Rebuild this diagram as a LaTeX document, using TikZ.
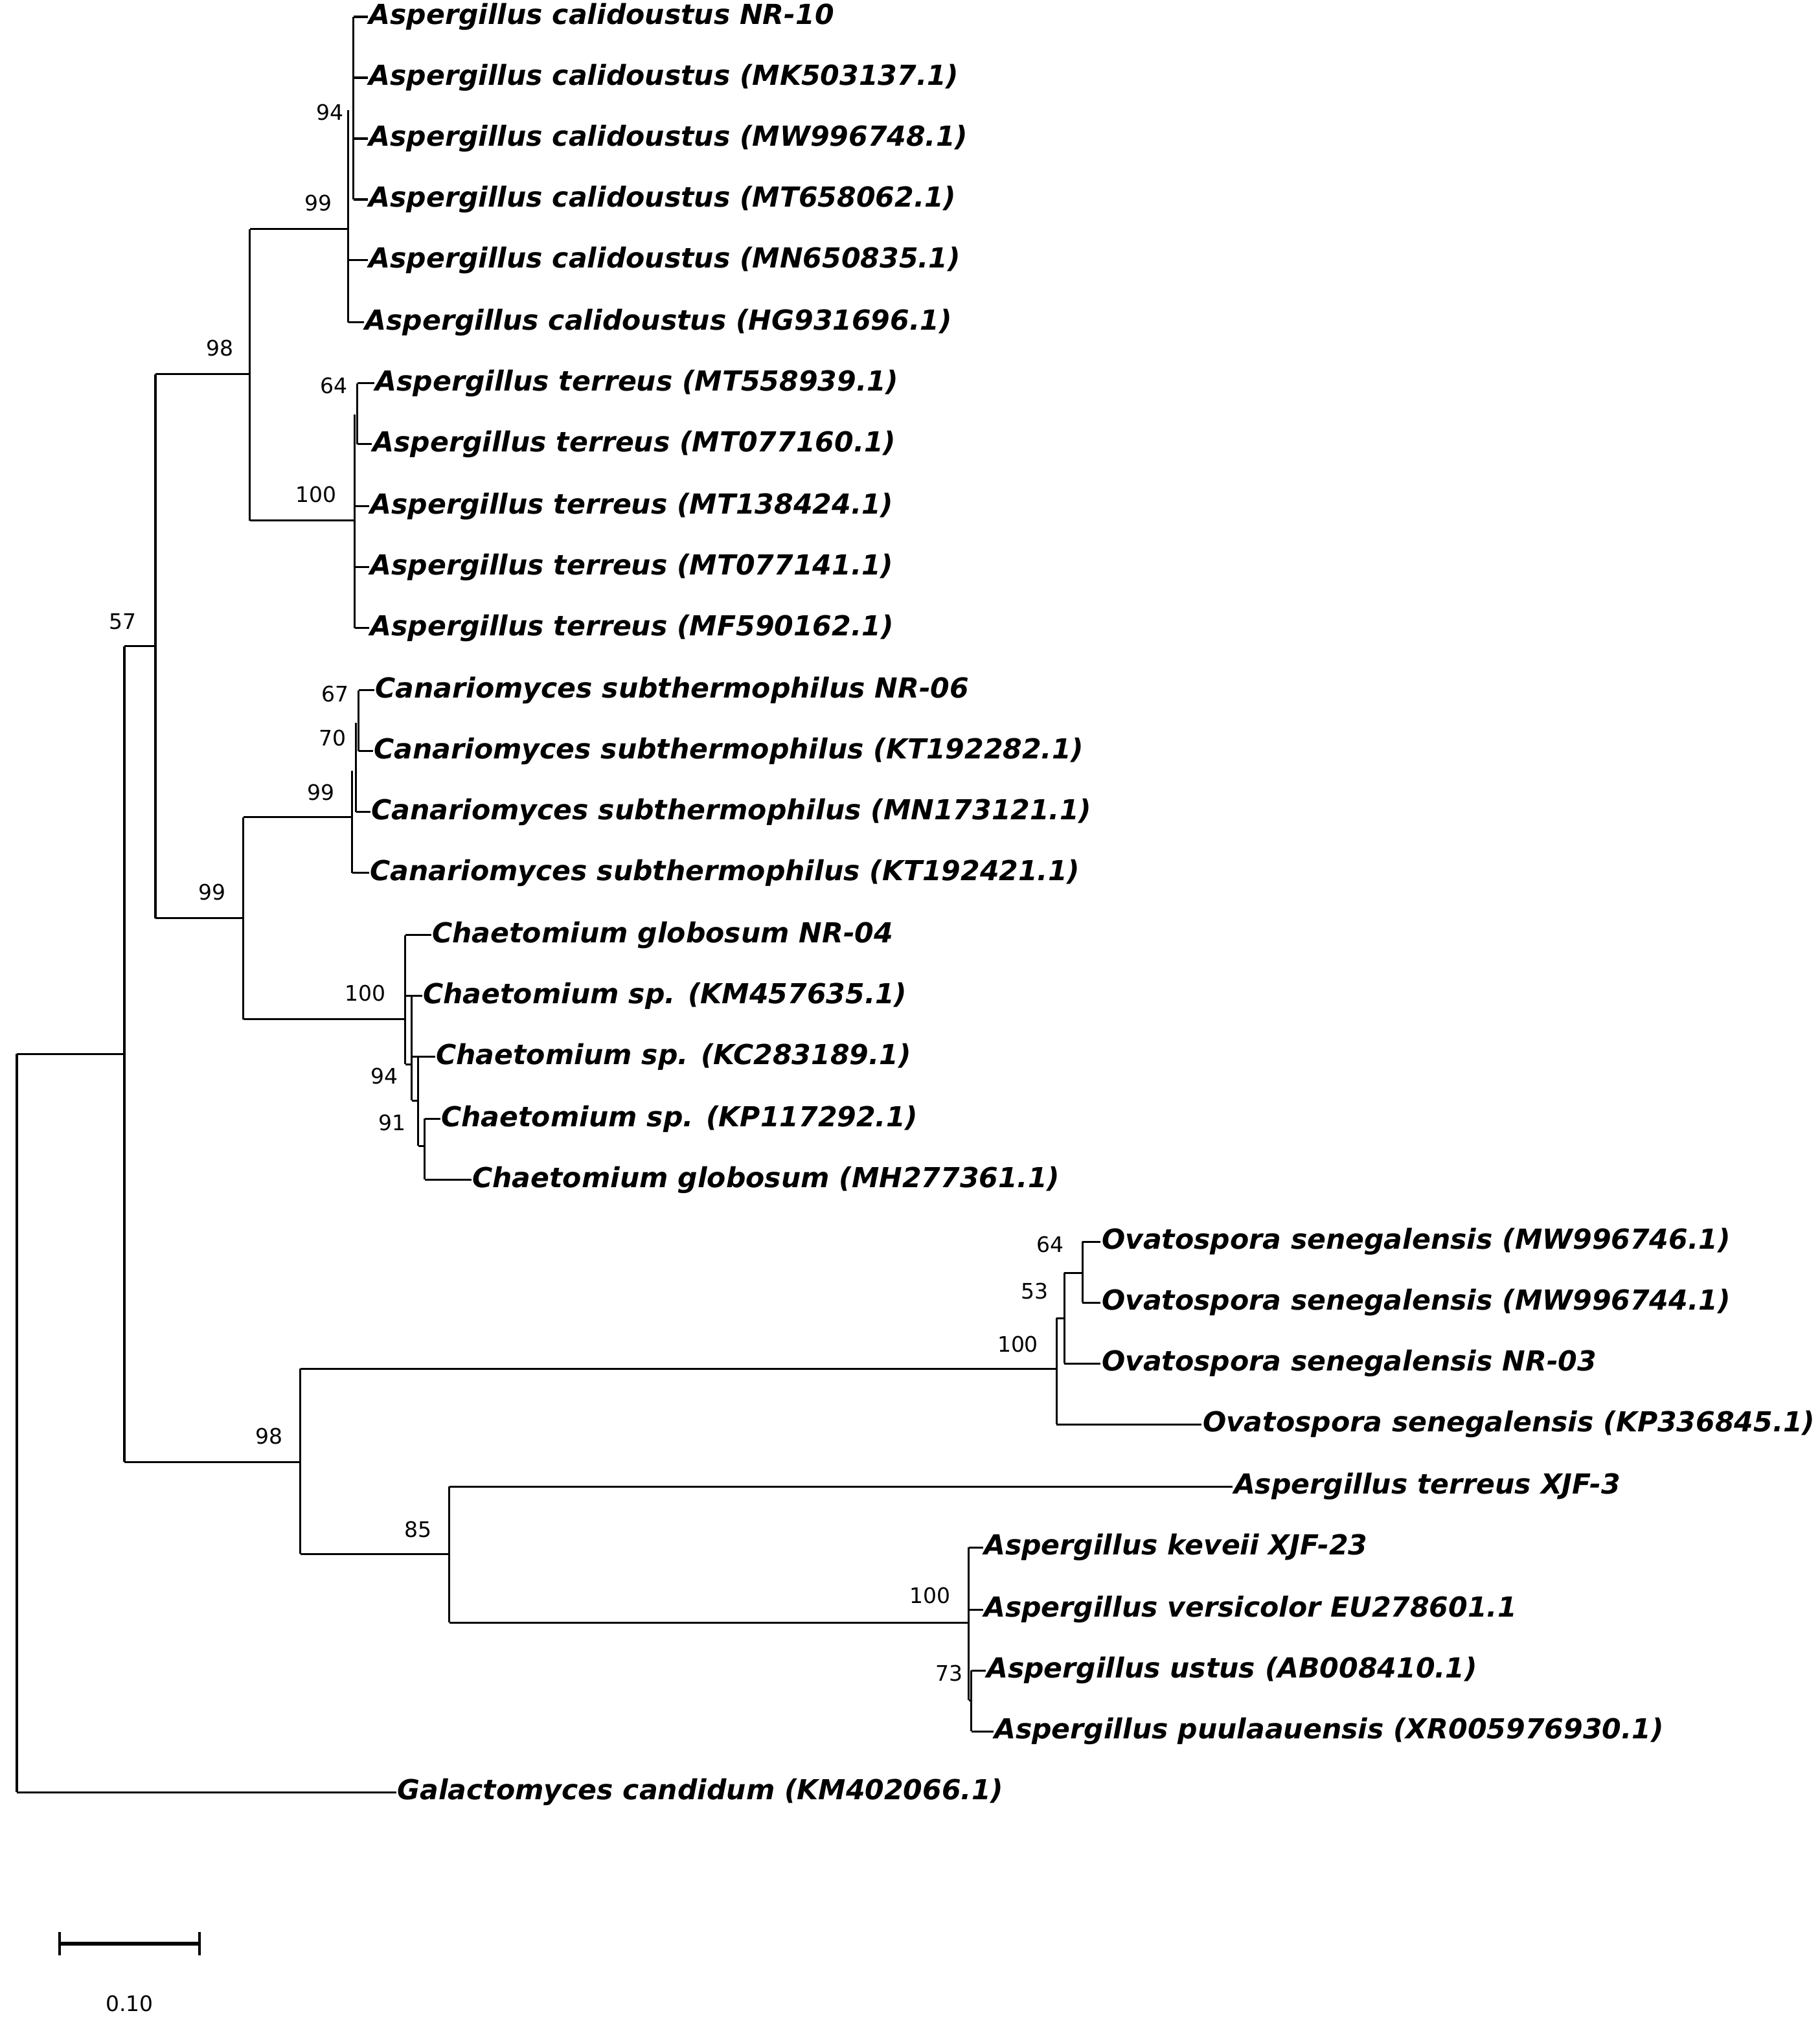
\documentclass[tikz,border=0pt]{standalone}
\usepackage{fontspec}
\setmainfont{DejaVu Sans}
\begin{document}
\begin{tikzpicture}[x=1pt,y=-1pt,line width=1.6pt,
 lf/.style={anchor=west,inner sep=0pt,font=\fontsize{21.3}{23}\selectfont\bfseries\itshape},
 bs/.style={anchor=center,inner sep=0pt,font=\fontsize{16.5}{18}\selectfont}]
\useasboundingbox (0,0) rectangle (1405,1563);
\foreach \n/\x/\y/\t in {
c1/278/13/Aspergillus calidoustus NR-10,
c2/278/60/Aspergillus calidoustus (MK503137.1),
c3/278/107/Aspergillus calidoustus (MW996748.1),
c4/278/154/Aspergillus calidoustus (MT658062.1),
c5/278/201/Aspergillus calidoustus (MN650835.1),
c6/275/249/Aspergillus calidoustus (HG931696.1),
t1/283/296/Aspergillus terreus (MT558939.1),
t2/281/343/Aspergillus terreus (MT077160.1),
t3/279/391/Aspergillus terreus (MT138424.1),
t4/279/438/Aspergillus terreus (MT077141.1),
t5/279/485/Aspergillus terreus (MF590162.1),
k1/283/533/Canariomyces subthermophilus NR-06,
k2/282/580/Canariomyces subthermophilus (KT192282.1),
k3/280/627/Canariomyces subthermophilus (MN173121.1),
k4/279/674/Canariomyces subthermophilus (KT192421.1),
h1/327/722/Chaetomium globosum NR-04,
h2/320/769/Chaetomium sp. (KM457635.1),
h3/330/816/Chaetomium sp. (KC283189.1),
h4/334/864/Chaetomium sp. (KP117292.1),
h5/358/911/Chaetomium globosum (MH277361.1),
o1/844/959/Ovatospora senegalensis (MW996746.1),
o2/844/1006/Ovatospora senegalensis (MW996744.1),
o3/844/1053/Ovatospora senegalensis NR-03,
o4/922/1100/Ovatospora senegalensis (KP336845.1),
x1/946/1148/Aspergillus terreus XJF-3,
a1/753/1195/Aspergillus keveii XJF-23,
a2/753/1243/Aspergillus versicolor EU278601.1,
a3/755/1290/Aspergillus ustus (AB008410.1),
a4/761/1337/Aspergillus puulaauensis (XR005976930.1),
g1/300/1384/Galactomyces candidum (KM402066.1)}
 \node[lf] (\n) at (\x+6,\y) {\t};
\def\br#1#2#3{\draw (#1,#2) -- (#1,#3);}
% calidoustus
\br{273}{13}{154}\br{269}{85}{249}
\foreach \n/\y in {c1/13,c2/60,c3/107,c4/154,c5/201} \draw (273,\y) -- (\n.west);
\draw (269,201) -- (c5.west); \draw (269,249) -- (c6.west);
% terreus
\br{276}{296}{343}\br{274}{320}{485}
\draw (276,296) -- (t1.west); \draw (276,343) -- (t2.west);
\foreach \n/\y in {t3/391,t4/438,t5/485} \draw (274,\y) -- (\n.west);
% canariomyces
\br{277}{533}{580}\br{275}{558}{627}\br{272}{595}{674}
\draw (277,533) -- (k1.west); \draw (277,580) -- (k2.west);
\draw (275,627) -- (k3.west); \draw (272,674) -- (k4.west);
% chaetomium
\br{313}{722}{822}\br{318}{769}{850}\br{323}{816}{885}\br{328}{864}{911}
\draw (313,722) -- (h1.west); \draw (313,769) -- (h2.west);
\draw (318,816) -- (h3.west); \draw (328,864) -- (h4.west); \draw (328,911) -- (h5.west);
\draw (313,822) -- (318,822); \draw (318,850) -- (323,850); \draw (323,885) -- (328,885);
% ovatospora
\br{836}{959}{1006}\br{822}{983}{1053}\br{816}{1018}{1100}
\draw (836,959) -- (o1.west); \draw (836,1006) -- (o2.west);
\draw (822,983) -- (836,983); \draw (822,1053) -- (o3.west);
\draw (816,1018) -- (822,1018); \draw (816,1100) -- (o4.west);
% aspergillus group
\br{750}{1290}{1337}\br{748}{1195}{1313}
\draw (750,1290) -- (a3.west); \draw (750,1337) -- (a4.west);
\draw (748,1195) -- (a1.west); \draw (748,1243) -- (a2.west); \draw (748,1313) -- (750,1313);
\br{347}{1148}{1253}\draw (347,1148) -- (x1.west); \draw (347,1253) -- (748,1253);
% internal
\br{193}{177}{402}\draw (193,177) -- (269,177); \draw (193,402) -- (274,402);
\br{188}{631}{787}\draw (188,631) -- (272,631); \draw (188,787) -- (313,787);
\br{120}{289}{709}\draw (120,289) -- (193,289); \draw (120,709) -- (188,709);
\br{232}{1057}{1200}\draw (232,1057) -- (816,1057); \draw (232,1200) -- (347,1200);
\br{96}{499}{1129}\draw (96,499) -- (120,499); \draw (96,1129) -- (232,1129);
\br{13}{814}{1384}\draw (13,814) -- (96,814); \draw (13,1384) -- (g1.west);
\foreach \x/\y/\t in {255/87/94,246/157/99,170/269/98,258/298/64,244/382/100,
259/536/67,257/570/70,248/612/99,95/480/57,164/689/99,282/767/100,297/831/94,
303/867/91,811/961/64,799/997/53,786/1038/100,208/1109/98,323/1181/85,718/1232/100,733/1292/73}
 \node[bs] at (\x,\y) {\t};
\draw[line width=3pt] (45,1501) -- (155,1501);
\draw[line width=2pt] (46,1492) -- (46,1510); \draw[line width=2pt] (154,1492) -- (154,1510);
\node[bs] at (100,1547) {0.10};
\end{tikzpicture}
\end{document}
